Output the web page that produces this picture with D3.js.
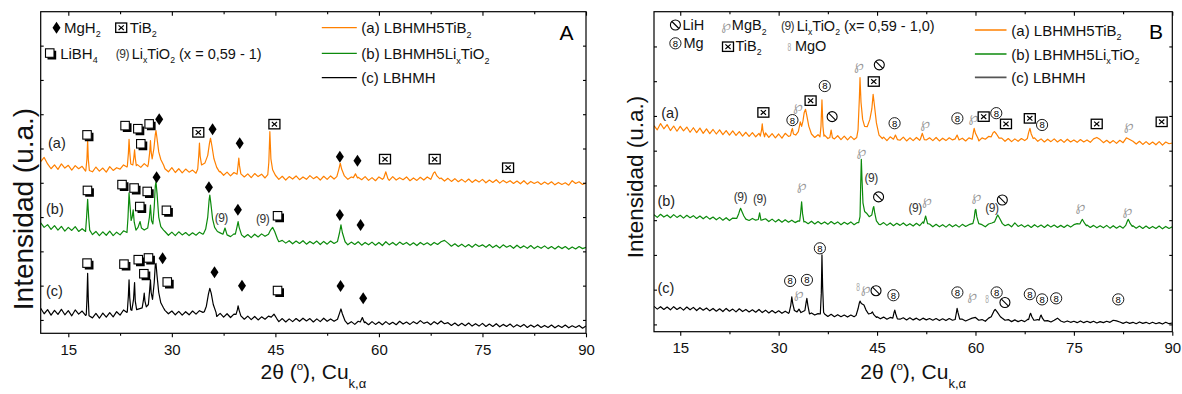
<!DOCTYPE html>
<html><head><meta charset="utf-8">
<script src="https://cdn.jsdelivr.net/npm/d3@7"></script>
<style>body{margin:0;background:#fff}text{font-family:"Liberation Sans",Arial,"DejaVu Sans",sans-serif}</style>
</head><body><svg id="c" width="1182" height="394"></svg>
<script>
// 2θ grid (categories) for baseline readings, 11° .. 90° every 0.5°
const thetaGrid = d3.range(0, 159).map(i => 11 + 0.5 * i);
const xTicksMajor = [15, 30, 45, 60, 75, 90];
const xTicksMinor = [22.5, 37.5, 52.5, 67.5, 82.5];
const yTicks = [0, 100, 200, 300, 400, 500, 600, 700, 800];

// ---------- Panel A ----------
const A_a_base = [462,474,455,441,452,439,455,443,451,437,450,441,448,434,445,432,446,434,443,431,447,436,444,440,452,446,455,444,453,445,456,447,455,450,452,444,441,432,444,430,441,429,440,431,437,428,439,433,440,431,436,425,433,422,431,420,430,421,428,417,426,415,427,418,425,414,424,416,421,410,419,408,418,411,420,409,417,410,421,412,418,408,419,410,420,411,418,414,419,410,417,408,416,409,418,407,415,406,417,410,416,407,418,408,415,409,417,406,414,407,416,408,417,410,418,412,414,405,413,404,412,403,410,402,411,401,409,402,410,400,408,401,409,399,407,400,406,398,405,397,406,396,404,398,403,395,402,396,403,394,401,395,400,393,406,398,403,395,399];
const A_a_peaks = [
 [[17.55,438],[17.7,470],[17.8,525],[17.9,468],[18.05,436]],
 [[23.55,448],[23.7,485],[23.8,527],[23.9,490],[24.05,455]],
 [[24.35,452],[24.5,475],[24.6,496],[24.7,472],[24.85,450]],
 [[26.6,455],[26.8,490],[26.9,523],[27.0,490],[27.15,470],[27.4,500],[27.6,540],[27.7,552],[27.85,530],[28.1,490],[28.4,468],[28.8,452]],
 [[33.75,440],[33.9,480],[34.0,516],[34.1,478],[34.3,452],[34.8,458],[35.2,480],[35.45,515],[35.6,530],[35.8,508],[36.1,470],[36.5,445],[36.9,432]],
 [[39.45,425],[39.6,452],[39.7,472],[39.8,450],[40.0,426]],
 [[43.9,424],[44.05,460],[44.2,549],[44.35,470],[44.6,438],[45.0,422]],
 [[53.9,418],[54.2,440],[54.4,457],[54.6,440],[55.0,420]],
 [[56.3,415],[56.6,426],[56.9,414]],
 [[60.7,414],[61.0,432],[61.3,412]],
 [[67.6,414],[67.9,428],[68.1,432],[68.4,420],[68.8,412]]
];
const A_b_base = [283,270,278,264,275,262,273,259,270,261,272,258,266,255,262,249,258,246,257,247,259,246,256,248,260,252,258,250,262,254,260,255,262,258,260,253,258,247,256,246,257,248,255,246,254,247,256,250,258,252,257,250,254,245,252,243,251,246,250,241,249,240,250,242,251,244,250,245,238,228,232,224,231,222,230,223,231,221,229,222,230,220,229,221,230,223,229,226,228,219,227,220,228,218,226,219,227,218,226,217,228,219,226,218,227,220,226,218,225,217,226,219,225,218,226,220,228,232,224,215,222,214,221,213,220,212,221,214,219,212,220,211,218,210,219,212,217,209,218,210,216,209,217,208,215,209,216,208,214,207,215,208,214,206,213,207,214,208,212];
const A_b_peaks = [
 [[17.5,258],[17.65,300],[17.8,352],[17.95,300],[18.1,262],[18.4,252]],
 [[23.5,255],[23.65,300],[23.8,371],[23.95,330],[24.1,290],[24.25,300],[24.4,321],[24.55,285],[24.8,262],[25.1,270],[25.4,287],[25.6,268],[26.0,262],[26.5,268],[26.75,300],[26.9,335],[27.05,290],[27.25,280],[27.45,330],[27.6,390],[27.7,403],[27.85,370],[28.1,300],[28.4,272],[28.8,262]],
 [[34.6,252],[34.9,265],[35.2,300],[35.4,350],[35.5,364],[35.65,340],[35.9,295],[36.2,270],[36.6,258]],
 [[37.4,250],[37.7,268],[38.0,248]],
 [[39.2,250],[39.45,272],[39.6,287],[39.75,270],[40.1,248]],
 [[44.0,250],[44.3,262],[44.6,270],[44.9,258],[45.3,236]],
 [[54.0,229],[54.3,255],[54.5,277],[54.7,255],[55.1,228]]
];
const A_c_base = [34,18,30,14,28,16,31,15,27,12,29,17,26,13,22,6,19,5,20,8,21,9,24,14,29,22,30,24,32,25,33,28,35,32,34,30,28,18,26,15,25,14,24,15,26,17,27,22,28,24,22,10,19,8,18,7,17,10,14,2,11,1,10,0,9,2,11,8,6,-5,4,-6,3,-5,4,-4,5,-3,4,-6,3,-5,5,-4,3,-4,2,0,-3,-12,-5,-13,-4,-10,-6,-14,-5,-13,-6,-14,-5,-13,-7,-14,-4,-12,-6,-13,-5,-11,-2,-10,-6,-14,-5,-12,-3,-11,-8,-16,-9,-17,-10,-17,-9,-18,-11,-18,-10,-19,-12,-19,-11,-20,-13,-19,-12,-21,-14,-20,-13,-22,-15,-21,-14,-22,-16,-22,-15,-23,-16,-22,-15,-23,-17,-22,-16,-24,-18];
const A_c_peaks = [
 [[17.6,15],[17.7,60],[17.8,136],[17.9,58],[18.0,12]],
 [[23.55,25],[23.7,70],[23.8,117],[23.9,65],[24.05,30],[24.2,28],[24.45,60],[24.6,109],[24.7,55],[24.9,30],[25.7,35],[25.9,60],[26.0,78],[26.1,55],[26.3,38],[26.6,45],[26.8,90],[26.9,117],[27.0,80],[27.2,60],[27.45,110],[27.6,160],[27.7,165],[27.85,130],[28.1,80],[28.4,50],[28.8,35]],
 [[34.7,24],[35.0,40],[35.3,75],[35.5,92],[35.7,78],[36.0,45],[36.4,22]],
 [[39.3,16],[39.5,30],[39.6,41],[39.75,28],[40.0,12]],
 [[44.4,8],[44.8,17],[45.2,4]],
 [[54.0,2],[54.3,20],[54.5,32],[54.7,18],[55.1,-3]],
 [[57.3,-6],[57.6,7],[57.9,-8]]
];
const A_markers = [
 [17.75,539,'sq'],[23.26,566,'sq'],[25.11,557,'sq'],[26.75,571,'sq'],[25.54,513,'sq'],[28.17,585,'dia'],[33.83,547,'xb'],[35.90,556,'dia'],[39.83,515,'dia'],[44.86,571,'xb'],[54.34,476,'dia'],[56.89,464,'dia'],[60.88,469,'xb'],[68.08,469,'xb'],[78.71,444,'xb'],
 [17.81,377,'sq'],[22.82,394,'sq'],[24.57,384,'sq'],[26.47,374,'sq'],[27.79,416,'dia'],[25.39,330,'sq'],[29.25,319,'sq'],[35.37,387,'dia'],[37.16,299,'li'],[39.57,321,'dia'],[43.16,294,'li'],[45.35,303,'sq'],[54.34,306,'dia'],[57.34,277,'dia'],
 [17.75,165,'sq'],[23.10,162,'sq'],[25.17,175,'sq'],[26.65,180,'sq'],[28.66,180,'dia'],[25.98,134,'sq'],[29.37,110,'sq'],[36.18,139,'dia'],[40.16,100,'dia'],[45.35,85,'sq'],[54.44,99,'dia'],[57.72,63,'dia']
];
const A_traceLabels = [['(a)',12.06,501],['(b)',11.77,310],['(c)',11.77,71]];

// ---------- Panel B ----------
const B_a_base = [572,560,578,563,575,558,571,556,570,557,568,553,566,552,565,550,563,549,561,548,560,546,558,545,557,544,555,542,553,541,552,540,550,544,551,538,549,537,548,536,550,541,548,545,549,546,550,545,547,538,546,540,545,535,546,534,543,532,542,531,541,532,540,535,545,548,546,540,538,530,539,529,540,531,538,530,539,528,537,529,538,530,540,531,537,529,538,528,536,529,537,531,540,532,536,528,537,531,536,528,537,533,541,540,546,538,536,527,535,526,534,527,535,529,538,531,537,527,534,525,533,526,534,525,532,524,533,525,531,524,532,525,531,524,534,538,532,523,530,522,529,521,530,523,537,532,527,519,527,518,526,518,525,517,526,516,525,520,522];
const B_a_peaks = [
 [[27.2,542],[27.4,560],[27.5,577],[27.6,558],[27.85,540]],
 [[31.8,543],[32.0,560],[32.1,564],[32.25,548],[32.6,545],[33.0,555],[33.3,583],[33.5,570],[33.7,585],[33.9,610],[34.1,619],[34.3,600],[34.6,570],[35.0,548]],
 [[36.3,540],[36.45,570],[36.6,646],[36.75,570],[36.9,542]],
 [[37.8,538],[38.0,559],[38.2,537]],
 [[41.9,538],[42.1,560],[42.3,650],[42.4,710],[42.55,640],[42.8,590],[43.1,570],[43.5,569],[43.9,590],[44.2,620],[44.4,662],[44.6,630],[44.9,580],[45.3,545],[45.8,535]],
 [[47.5,533],[47.8,545],[48.1,532]],
 [[51.6,533],[51.9,550],[52.2,532]],
 [[56.9,534],[57.2,545],[57.5,531]],
 [[59.5,533],[59.7,555],[59.8,564],[60.0,550],[60.4,535]],
 [[62.4,540],[62.7,552],[62.9,555],[63.2,548],[63.6,536]],
 [[67.9,535],[68.1,552],[68.3,564],[68.5,548],[68.8,535]]
];
const B_b_base = [316,308,317,309,315,307,316,308,314,306,314,307,313,305,312,304,311,303,309,301,308,300,307,299,306,305,312,310,305,299,305,300,310,301,304,296,303,295,302,294,301,294,300,293,298,300,296,290,297,289,296,289,295,288,296,289,295,287,294,288,295,287,293,300,305,300,305,310,295,287,293,285,292,284,291,285,292,284,290,283,291,284,295,300,289,281,288,281,287,280,288,281,287,280,288,282,287,290,300,285,287,281,289,292,300,305,293,284,288,281,292,282,287,280,286,279,287,280,286,279,287,280,286,279,285,279,286,280,287,290,297,295,286,279,285,278,284,278,285,277,284,277,283,277,292,298,284,277,283,276,283,276,282,276,283,275,282,276,281];
const B_b_peaks = [
 [[23.6,305],[23.9,318],[24.1,330],[24.2,334],[24.4,325],[24.7,312],[25.0,303]],
 [[26.9,302],[27.1,321],[27.3,300]],
 [[33.2,297],[33.35,320],[33.5,353],[33.65,318],[33.85,295]],
 [[42.2,293],[42.4,310],[42.5,400],[42.6,475],[42.7,420],[42.85,350],[43.1,325],[43.4,320],[43.8,310],[44.2,315],[44.4,335],[44.5,339],[44.65,320],[44.9,298],[45.3,288]],
 [[52.1,291],[52.4,312],[52.7,290]],
 [[59.6,290],[59.8,305],[59.95,328],[60.05,331],[60.2,310],[60.5,290]],
 [[62.9,295],[63.2,308],[63.4,315],[63.7,305],[64.1,290]],
 [[75.9,289],[76.2,300],[76.3,302],[76.6,292],[76.9,284]],
 [[82.9,285],[83.2,300],[83.3,302],[83.6,290],[83.9,282]]
];
const B_c_base = [52,44,51,43,50,42,51,43,49,41,50,42,49,40,48,41,47,39,46,38,45,37,46,38,44,36,45,37,43,36,42,35,43,34,41,33,40,33,39,32,38,32,40,33,38,31,36,30,33,27,31,30,30,23,29,22,28,22,27,21,27,22,30,40,45,32,30,26,22,16,21,15,20,18,22,15,19,13,19,13,18,12,18,13,17,12,17,11,16,11,17,12,25,18,15,10,14,18,20,12,14,9,18,28,40,30,19,12,14,8,13,8,12,8,15,25,12,14,22,10,11,7,12,18,10,6,10,6,9,5,10,5,9,5,9,4,8,5,9,6,12,10,7,3,7,3,6,2,7,3,6,2,6,2,5,1,6,2,4];
const B_c_peaks = [
 [[31.6,34],[31.85,55],[32.0,79],[32.15,60],[32.4,40],[32.8,36],[33.1,44],[33.4,34],[34.0,40],[34.2,65],[34.3,75],[34.45,55],[34.7,30]],
 [[36.35,30],[36.5,90],[36.6,200],[36.7,110],[36.85,35]],
 [[41.8,26],[42.1,45],[42.3,62],[42.4,67],[42.6,60],[43.0,56],[43.3,42],[43.7,30],[44.1,32],[44.3,36],[44.5,28],[44.9,20]],
 [[47.4,18],[47.6,35],[47.7,41],[47.85,30],[48.1,16]],
 [[56.9,14],[57.1,35],[57.2,46],[57.35,33],[57.6,15]],
 [[62.4,22],[62.8,38],[63.0,43],[63.3,36],[63.8,22]],
 [[68.1,14],[68.3,28],[68.4,32],[68.6,22],[68.9,12]],
 [[69.7,12],[69.9,24],[70.0,27],[70.2,18],[70.5,10]]
];
const B_markers = [
 [27.67,610,'xb'],[32.10,588,'mg'],[32.94,630,'mgb'],[34.87,644,'xb'],[37.03,686,'mg'],[38.15,598,'lih'],[42.23,747,'mgb'],[45.34,747,'lih'],[44.50,699,'xb'],[47.67,579,'mg'],[52.31,579,'mgb'],[57.24,593,'mg'],[59.67,598,'mgb'],[61.25,598,'xb'],[63.17,608,'mg'],[64.65,577,'xb'],[68.28,593,'xb'],[70.15,574,'mg'],[78.48,577,'xb'],[83.34,574,'mgb'],[88.38,583,'xb'],
 [24.17,369,'li'],[27.11,363,'li'],[33.52,401,'mgb'],[42.62,500,'mgb'],[44.10,422,'li'],[45.23,367,'lih'],[50.79,336,'li'],[52.59,358,'mgb'],[60.12,369,'mgb'],[62.50,336,'li'],[64.09,358,'lih'],[75.99,341,'mgb'],[83.17,329,'mgb'],
 [31.75,125,'mg'],[33.06,91,'mgb'],[34.31,128,'mg'],[36.28,219,'mg'],[42.12,107,'mgo'],[43.25,104,'mgb'],[44.84,97,'lih'],[47.49,84,'mg'],[57.24,92,'mg'],[59.50,84,'mgb'],[61.77,72,'mgo'],[63.23,92,'mg'],[64.49,63,'lih'],[68.28,87,'mg'],[70.15,72,'mg'],[72.30,75,'mg'],[81.76,72,'mg']
];
const B_traceLabels = [['(a)',12.10,593],['(b)',11.53,341],['(c)',11.53,91]];

const colors = {a:'#ff8000', b:'#0c8a0c', c:'#000000'};

function merge(base, peaks) {
  let pts = thetaGrid.map((t, i) => [t, base[i]]);
  peaks.forEach(g => {
    const lo = g[0][0], hi = g[g.length - 1][0];
    pts = pts.filter(p => p[0] < lo || p[0] > hi).concat(g);
  });
  return pts.sort((a, b) => a[0] - b[0]);
}

const svg = d3.select('#c');

function rich(g, x, y, parts, fs, anchor) {
  const t = g.append('text').attr('x', x).attr('y', y).style('font-size', fs + 'px')
    .attr('text-anchor', anchor || 'start').attr('fill', '#111');
  let off = 0;
  parts.forEach(p => {
    const kind = p[1];
    const target = kind === 'sub' ? fs * (p[2] || 0.33) : kind === 'sup' ? -fs * (p[2] || 0.42) : 0;
    const s = t.append('tspan').text(p[0]).attr('dy', target - off);
    off = target;
    if (kind) s.style('font-size', (fs * (p[3] || 0.6)) + 'px');
  });
  return t;
}

function marker(g, type, x, y) {
  const m = g.append('g').attr('transform', `translate(${x},${y})`);
  if (type === 'dia') m.append('path').attr('d', 'M0,-6L4,0L0,6L-4,0Z').attr('fill', '#000');
  else if (type === 'sq') {
    m.append('path').attr('d', 'M-2.5,5.1H5.1V-2.5').attr('fill', 'none').attr('stroke', '#000').attr('stroke-width', 2.2);
    m.append('rect').attr('x', -4.5).attr('y', -4.5).attr('width', 8.5).attr('height', 8.5)
      .attr('fill', '#fff').attr('stroke', '#000').attr('stroke-width', 1.1);
  } else if (type === 'xb') {
    m.append('rect').attr('x', -5.5).attr('y', -4.7).attr('width', 11).attr('height', 9.4)
      .attr('fill', '#fff').attr('stroke', '#000').attr('stroke-width', 1.3);
    m.append('path').attr('d', 'M-2.6,-2.3L2.6,2.3M2.6,-2.3L-2.6,2.3').attr('stroke', '#000').attr('stroke-width', 1.2);
  } else if (type === 'mg') {
    m.append('circle').attr('r', 5.6).attr('fill', '#fff').attr('stroke', '#000').attr('stroke-width', 0.9);
    m.append('text').text('8').attr('text-anchor', 'middle').attr('dy', '0.36em').style('font-size', '9.5px').attr('fill', '#000');
  } else if (type === 'lih') {
    m.append('circle').attr('r', 5).attr('fill', '#fff').attr('stroke', '#000').attr('stroke-width', 1.1);
    m.append('path').attr('d', 'M-3.5,-3.5L3.5,3.5').attr('stroke', '#000').attr('stroke-width', 1.1);
  } else if (type === 'mgb') {
    m.append('text').text('℘').attr('text-anchor', 'middle').attr('dy', '0.36em')
      .style('font-size', '14px').style('font-family', 'DejaVu Sans').attr('fill', '#999');
  } else if (type === 'mgo') {
    m.append('text').text('8').attr('text-anchor', 'middle').attr('dy', '0.36em')
      .attr('transform', 'scale(0.6,1)').style('font-size', '11px').attr('fill', '#a8a8a8');
  } else if (type === 'li') {
    m.append('text').text('(9)').attr('text-anchor', 'middle').attr('dy', '0.36em')
      .style('font-size', '12px').style('letter-spacing', '-0.5px').attr('fill', '#333');
  }
}

const panels = [
  {key:'A', left:40.7, right:586, top:11.7, bottom:333.3, yDomain:[-39, 899],
   series:[[A_a_base,A_a_peaks,'a'],[A_b_base,A_b_peaks,'b'],[A_c_base,A_c_peaks,'c']],
   markers:A_markers, labels:A_traceLabels},
  {key:'B', left:654, right:1172.3, top:11.7, bottom:331.7, yDomain:[-21, 900],
   series:[[B_a_base,B_a_peaks,'a'],[B_b_base,B_b_peaks,'b'],[B_c_base,B_c_peaks,'c']],
   markers:B_markers, labels:B_traceLabels}
];

panels.forEach(p => {
  const x = d3.scaleLinear([11, 90], [p.left, p.right]);
  const y = d3.scaleLinear(p.yDomain, [p.bottom, p.top]);
  const g = svg.append('g');
  const cid = 'clip' + p.key;
  g.append('clipPath').attr('id', cid).append('rect')
    .attr('x', p.left).attr('y', p.top).attr('width', p.right - p.left).attr('height', p.bottom - p.top);
  const line = d3.line().x(d => x(d[0])).y(d => y(d[1]));
  const tg = g.append('g').attr('clip-path', `url(#${cid})`);
  p.series.forEach(s => {
    tg.append('path').datum(merge(s[0], s[1])).attr('d', line)
      .attr('fill', 'none').attr('stroke', colors[s[2]]).attr('stroke-width', 1.2).attr('stroke-linejoin', 'round');
  });
  p.markers.forEach(m => marker(g, m[2], x(m[0]), y(m[1])));
  p.labels.forEach(l => g.append('text').text(l[0]).attr('x', x(l[1])).attr('y', y(l[2]))
    .style('font-size', '14.5px').attr('fill', '#222'));

  // axes
  const axG = g.append('g').attr('class', 'axes');
  const bMaj = axG.append('g').attr('transform', `translate(0,${p.bottom})`)
    .call(d3.axisBottom(x).tickValues(xTicksMajor).tickSizeInner(4).tickSizeOuter(0).tickPadding(7).tickFormat(d3.format('d')));
  axG.append('g').attr('transform', `translate(0,${p.bottom})`)
    .call(d3.axisBottom(x).tickValues(xTicksMinor).tickSizeInner(2.5).tickSizeOuter(0).tickFormat(''));
  axG.append('g').attr('transform', `translate(0,${p.top})`)
    .call(d3.axisTop(x).tickValues(xTicksMajor).tickSizeInner(-4).tickSizeOuter(0).tickFormat(''));
  axG.append('g').attr('transform', `translate(0,${p.top})`)
    .call(d3.axisTop(x).tickValues(xTicksMinor).tickSizeInner(-2.5).tickSizeOuter(0).tickFormat(''));
  axG.append('g').attr('transform', `translate(${p.left},0)`)
    .call(d3.axisLeft(y).tickValues(yTicks).tickSizeInner(-3).tickSizeOuter(0).tickFormat(''));
  axG.append('g').attr('transform', `translate(${p.right},0)`)
    .call(d3.axisRight(y).tickValues(yTicks).tickSizeInner(-3).tickSizeOuter(0).tickFormat(''));
  axG.selectAll('.domain').remove();
  axG.selectAll('line').attr('stroke', '#000').attr('stroke-width', 1.1);
  bMaj.selectAll('text').style('font-size', '15px').attr('fill', '#111').style('font-family', '"Liberation Sans",Arial,sans-serif');
  g.append('rect').attr('x', p.left).attr('y', p.top).attr('width', p.right - p.left).attr('height', p.bottom - p.top)
    .attr('fill', 'none').attr('stroke', '#000').attr('stroke-width', 1.2);

  // x title
  const cx = (p.left + p.right) / 2;
  rich(g, cx, 379, [['2θ ('], ['o', 'sup', 0.45, 0.55], ['), Cu'], ['k,α', 'sub', 0.42, 0.62]], 21, 'middle');
});

// y titles
svg.append('text').text('Intensidad (u.a.)').attr('transform', 'translate(33,209) rotate(-90)')
  .attr('text-anchor', 'middle').style('font-size', '28px').attr('fill', '#111');
svg.append('text').text('Intensidad (u.a.)').attr('transform', 'translate(643,177) rotate(-90)')
  .attr('text-anchor', 'middle').style('font-size', '22.5px').attr('fill', '#111');

// panel letters
svg.append('text').text('A').attr('x', 566.5).attr('y', 40).attr('text-anchor', 'middle').style('font-size', '21px');
svg.append('text').text('B').attr('x', 1156).attr('y', 39.3).attr('text-anchor', 'middle').style('font-size', '21px');

// legends panel A
const LA = svg.append('g');
marker(LA, 'dia', 56.5, 27.7); rich(LA, 64, 32.5, [['MgH'], ['2', 'sub']], 15);
marker(LA, 'xb', 121.2, 27.7); rich(LA, 129.8, 32.5, [['TiB'], ['2', 'sub']], 15);
marker(LA, 'sq', 50, 53.3); rich(LA, 60.2, 58.5, [['LiBH'], ['4', 'sub']], 15);
marker(LA, 'li', 122.3, 53.3); rich(LA, 131.7, 58.5, [['Li'], ['x', 'sub'], ['TiO'], ['2', 'sub'], [' (x = 0,59 - 1)']], 14.5);
const legLines = [['a', 'LBHMH5TiB'], ['b', 'LBHMH5Li'], ['c', 'LBHMH']];
[[27.7, 33], [53.3, 58.7], [77.7, 83]].forEach((r, i) => {
  LA.append('line').attr('x1', 321.8).attr('x2', 356.8).attr('y1', r[0]).attr('y2', r[0])
    .attr('stroke', colors[legLines[i][0]]).attr('stroke-width', 1.3);
});
rich(LA, 361.3, 33, [['(a) LBHMH5TiB'], ['2', 'sub']], 15);
rich(LA, 361.3, 58.7, [['(b) LBHMH5Li'], ['x', 'sub'], ['TiO'], ['2', 'sub']], 15);
rich(LA, 361.3, 83, [['(c) LBHMH']], 15);

// legends panel B
const LB = svg.append('g');
marker(LB, 'lih', 675.4, 25); rich(LB, 682.4, 30, [['LiH']], 14.5);
marker(LB, 'mg', 675.4, 43.3); rich(LB, 683.5, 48, [['Mg']], 14.5);
marker(LB, 'mgb', 726.2, 25); rich(LB, 731.8, 30, [['MgB'], ['2', 'sub']], 14.5);
marker(LB, 'xb', 728, 46.7); rich(LB, 735.5, 50.5, [['TiB'], ['2', 'sub']], 14.5);
marker(LB, 'li', 787.5, 26); rich(LB, 796.7, 30.5, [['Li'], ['x', 'sub'], ['TiO'], ['2', 'sub'], [' (x= 0,59 - 1,0)']], 14.5);
marker(LB, 'mgo', 789.3, 46.7); rich(LB, 794.9, 50.5, [['MgO']], 14.5);
[[30, 35.5, colors.a, 1.3], [54, 59.5, colors.b, 1.3], [77.3, 83, '#555', 1.8]].forEach(r => {
  LB.append('line').attr('x1', 974.9).attr('x2', 1006.5).attr('y1', r[0]).attr('y2', r[0])
    .attr('stroke', r[2]).attr('stroke-width', r[3]);
});
rich(LB, 1011.3, 35.5, [['(a) LBHMH5TiB'], ['2', 'sub']], 15);
rich(LB, 1011.3, 59.5, [['(b) LBHMH5Li'], ['x', 'sub'], ['TiO'], ['2', 'sub']], 15);
rich(LB, 1011.3, 83, [['(c) LBHMH']], 15);
</script></body></html>
